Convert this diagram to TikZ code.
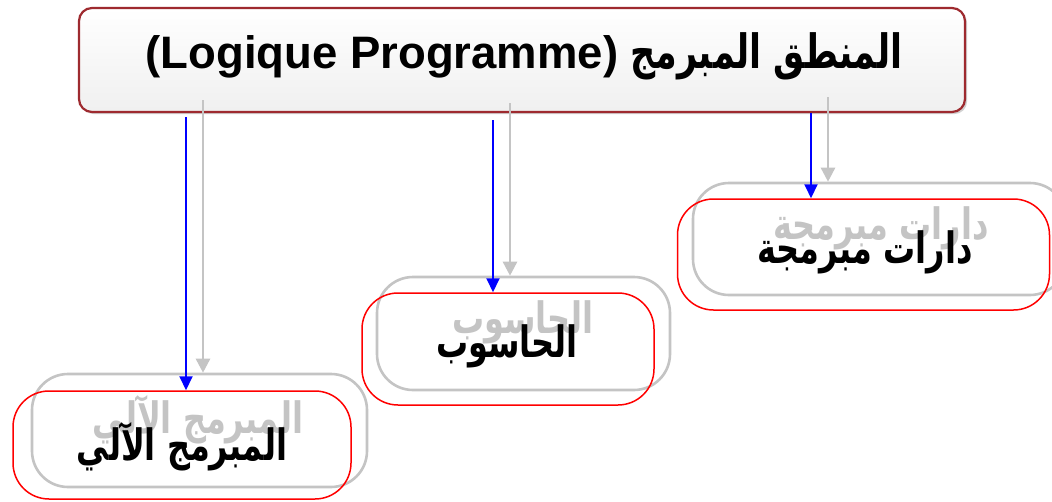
\documentclass[tikz,border=0pt]{standalone}
\usepackage{fontspec}
\usepackage{graphicx}
\usetikzlibrary{arrows.meta,shadows}
\TeXXeTstate=1
\newfontfamily\arabicfont[Script=Arabic]{DejaVu Sans}
\newfontfamily\latinfont{Liberation Sans}
\definecolor{maroonb}{HTML}{9E2A2F}
\definecolor{ghost}{HTML}{C4C4C4}
\definecolor{pureblue}{HTML}{0000FF}
\definecolor{purered}{HTML}{FF0000}
\newcommand{\artall}[1]{\scalebox{1}[1.35]{\beginR #1\endR}}
\tikzset{
  topbox/.style={draw=maroonb, line width=2.2pt, rounded corners=13pt,
    top color=white, bottom color=gray!12, drop shadow={opacity=0.35},
    minimum width=886pt, minimum height=104pt, inner sep=0pt},
  redbox/.style={draw=purered, line width=1.5pt, rounded corners=36pt, inner sep=0pt},
  graybox/.style={draw=ghost, line width=2.6pt, rounded corners=36pt, inner sep=0pt, fill=white},
  ghosttext/.style={text=ghost, font=\arabicfont\bfseries\fontsize{32}{36}\selectfont},
  blacktext/.style={text=black, font=\arabicfont\bfseries\fontsize{32}{36}\selectfont},
  bluearrow/.style={draw=pureblue, line width=2pt, -{Triangle[length=14pt,width=13pt]}},
  grayarrow/.style={draw=ghost, line width=2.6pt, -{Triangle[length=14pt,width=14pt]}}
}
\begin{document}
\begin{tikzpicture}[x={(1pt,0)}, y={(0,-1pt)}]
\clip (0,0) rectangle (1052,501);
\fill[white] (0,0) rectangle (1052,501);
% top box
\node[topbox] (top) at (522,60) {};
\node[inner sep=0pt] (toptext) at (524,56)
  {{\latinfont\bfseries\fontsize{45.5}{50}\selectfont(Logique Programme)}\hspace{12pt}{\arabicfont\bfseries\fontsize{35}{40}\selectfont\artall{المنطق المبرمج}}};
% shadow boxes
\node[graybox, minimum width=335pt, minimum height=113pt] (g1) at (199.5,430.5) {};
\node[graybox, minimum width=293pt, minimum height=113pt] (g2) at (523.5,333.5) {};
\node[graybox, minimum width=373pt, minimum height=112pt] (g3) at (879.5,239) {};
\node[ghosttext] (t1g) at (198,420) {\artall{المبرمج الآلي}};
\node[ghosttext] (t2g) at (523,322) {\artall{الحاسوب}};
\node[ghosttext] (t3g) at (881,228) {\artall{دارات مبرمجة}};
% gray arrows
\coordinate (ga1) at (203,100);
\coordinate (ga2) at (510,103);
\coordinate (ga3) at (828,97);
\draw[grayarrow] (ga1) -- (ga1 |- g1.north);
\draw[grayarrow] (ga2) -- (ga2 |- g2.north);
\draw[grayarrow] (ga3) -- (ga3 |- g3.north);
% main boxes
\node[redbox, minimum width=338pt, minimum height=108pt] (r1) at (182,445) {};
\node[redbox, minimum width=292pt, minimum height=112pt] (r2) at (508,349) {};
\node[redbox, minimum width=372pt, minimum height=111pt] (r3) at (863.5,254.5) {};
\node[blacktext] (t1) at (182,447) {\artall{المبرمج الآلي}};
\node[blacktext] (t2) at (507,346) {\artall{الحاسوب}};
\node[blacktext] (t3) at (865,252) {\artall{دارات مبرمجة}};
% blue arrows
\coordinate (ba1) at (186,117);
\coordinate (ba2) at (493,120);
\coordinate (ba3) at (811,113);
\draw[bluearrow] (ba1) -- (ba1 |- r1.north);
\draw[bluearrow] (ba2) -- (ba2 |- r2.north);
\draw[bluearrow] (ba3) -- (ba3 |- r3.north);
\end{tikzpicture}
\end{document}
